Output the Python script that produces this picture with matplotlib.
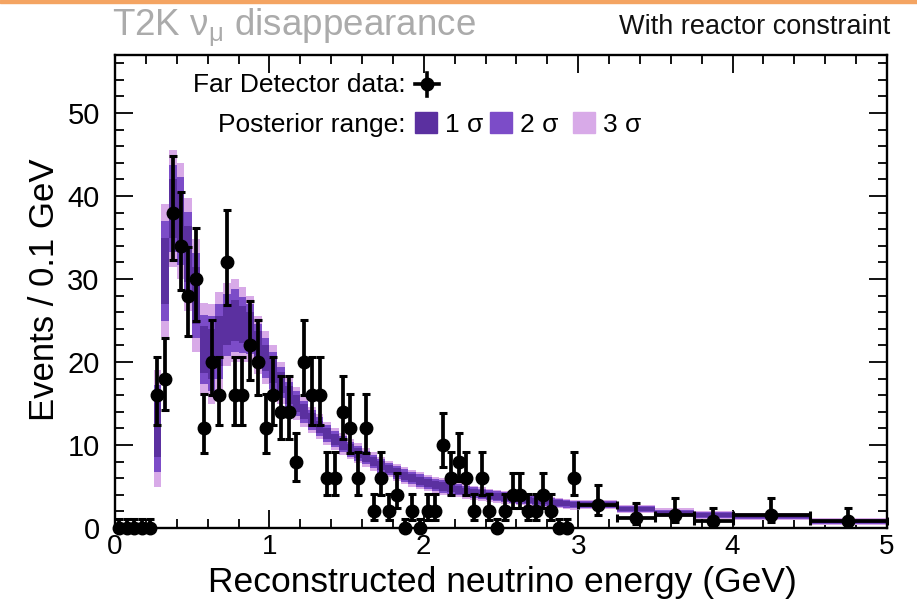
import numpy as np
import matplotlib
matplotlib.use("Agg")
import matplotlib.pyplot as plt
from matplotlib.lines import Line2D
from matplotlib.patches import Rectangle

plt.rcParams['font.family'] = ['Liberation Sans', 'DejaVu Sans']
plt.rcParams['mathtext.fontset'] = 'custom'
plt.rcParams['mathtext.rm'] = 'Liberation Sans'
plt.rcParams['mathtext.it'] = 'Liberation Sans'

# ---- data ----
# bin edges: 60 bins of 0.05 GeV from 0 to 3 GeV, then wider bins to 5 GeV
fine_edges = [round(0.05 * i, 2) for i in range(61)]
tail_edges = [3.25, 3.5, 3.75, 4.0, 4.5, 5.0]
bin_edges = fine_edges + tail_edges

# Far detector data (events / 0.1 GeV)
data_values = [0, 0, 0, 0, 0, 16, 18, 38, 34, 28,
               30, 12, 20, 16, 32, 16, 16, 22, 20, 12,
               16, 14, 14, 8, 20, 16, 16, 6, 6, 14,
               12, 6, 12, 2, 6, 2, 4, 0, 2, 0,
               2, 2, 10, 6, 8, 6, 2, 6, 2, 0,
               2, 4, 4, 2, 2, 4, 2, 0, 0, 6,
               2.8, 1.2, 1.6, 0.8, 1.6, 0.8]

# posterior prediction: central value and 3-sigma half width per bin
band_center = [0, 0, 0, 0, 0, 12, 31, 38.5, 37, 33,
               28, 21.5, 21, 22.5, 24.5, 25, 24.5, 24, 22, 20.5,
               19, 17.5, 16, 15, 14, 13, 12.2, 11.4, 10.7, 10.1,
               9.5, 9.0, 8.5, 8.0, 7.5, 7.1, 6.7, 6.3, 6.0, 5.7,
               5.4, 5.2, 5.0, 4.8, 4.6, 4.4, 4.25, 4.1, 3.95, 3.8,
               3.7, 3.6, 3.5, 3.4, 3.3, 3.2, 3.1, 3.0, 2.9, 2.8,
               2.8, 2.25, 1.85, 1.55, 1.4, 0.75]
band_halfwidth = [0, 0, 0, 0, 0, 7, 8, 7, 7, 6.8,
                  6.8, 5.6, 6, 6, 5, 5, 4.5, 4, 3.5, 3.2,
                  3, 2.5, 2.2, 2, 1.8, 1.6, 1.5, 1.4, 1.3, 1.3,
                  1.2, 1.2, 1.1, 1.1, 1.1, 1.0, 1.0, 1.0, 1.0, 1.0,
                  1.0, 1.0, 1.0, 0.9, 0.9, 0.9, 0.85, 0.85, 0.8, 0.8,
                  0.8, 0.75, 0.75, 0.7, 0.7, 0.7, 0.65, 0.65, 0.6, 0.6,
                  0.55, 0.5, 0.5, 0.5, 0.45, 0.4]

sigma_labels = ['1 σ', '2 σ', '3 σ']
sigma_fractions = [0.5, 0.75, 1.0]
sigma_colors = ['#5b30a0', '#7c4cc8', '#d8aae8']

# ---- figure ----
W, H = 917, 600
fig = plt.figure(figsize=(W / 100, H / 100), dpi=100)
ax = fig.add_axes([115 / W, 1 - 528 / H, (887 - 115) / W, (528 - 55) / H])

edges = np.array(bin_edges)
left = edges[:-1]
widths = np.diff(edges)
centers = left + widths / 2
c = np.array(band_center)
hw = np.array(band_halfwidth)
mask = c > 0

for k in [2, 1, 0]:
    f = sigma_fractions[k]
    ax.bar(left[mask], 2 * hw[mask] * f, bottom=c[mask] - hw[mask] * f,
           width=widths[mask], align='edge', color=sigma_colors[k],
           linewidth=0, zorder=2)

v = np.array(data_values, dtype=float)
up = 0.6 + np.sqrt(v + 0.25)
lo = -0.5 + np.sqrt(v + 0.25)
ax.errorbar(centers, v, yerr=[lo, up], xerr=widths / 2, fmt='o', color='black',
            markersize=9, elinewidth=2.7, capsize=2.8, capthick=2.2,
            zorder=5, clip_on=False)

ax.set_xlim(0, 5)
ax.set_ylim(0, 57)
ax.set_xticks([0, 1, 2, 3, 4, 5])
ax.set_xticks(np.arange(0, 5.01, 0.2), minor=True)
ax.set_yticks([0, 10, 20, 30, 40, 50])
ax.set_yticks(np.arange(0, 57, 2), minor=True)
ax.tick_params(which='both', direction='in', top=True, right=True,
               labelsize=21, width=1.3, colors='black')
ax.tick_params(which='major', length=13)
ax.tick_params(which='minor', length=6.5)
ax.tick_params(axis='x', which='major', pad=4, labelsize=20)
ax.tick_params(axis='y', which='major', pad=11)
for s in ax.spines.values():
    s.set_linewidth(1.7)

# axis titles
fig.text(502 / W, 1 - 592 / H, 'Reconstructed neutrino energy (GeV)',
         ha='center', va='baseline', fontsize=25.5)
fig.text(45 / W, 1 - 290 / H, 'Events / 0.1 GeV', rotation=90,
         ha='center', va='center', fontsize=25)

# header
fig.text(112 / W, 1 - 36 / H, r'T2K $\mathregular{\nu_{\mu}}$ disappearance',
         ha='left', va='baseline', fontsize=26.5, color='#ababab')
fig.text(890 / W, 1 - 34 / H, 'With reactor constraint',
         ha='right', va='baseline', fontsize=19.5, color='#111111')

# legend
fig.text(406 / W, 1 - 92 / H, 'Far Detector data:', ha='right', va='baseline',
         fontsize=19)
mx, my = 427 / W, 1 - 84 / H
fig.add_artist(Line2D([415 / W, 439 / W], [my, my], color='black', lw=2.6))
fig.add_artist(Line2D([mx, mx], [1 - 73 / H, 1 - 96 / H], color='black', lw=2.6))
fig.add_artist(Line2D([mx], [my], marker='o', markersize=9, color='black'))

fig.text(406 / W, 1 - 132 / H, 'Posterior range:', ha='right', va='baseline',
         fontsize=19)
sq_x = [415, 490, 573]
for k in range(3):
    fig.add_artist(Rectangle((sq_x[k] / W, 1 - 133 / H), 22 / W, 21 / H,
                             transform=fig.transFigure, color=sigma_colors[k]))
    fig.text((sq_x[k] + 30) / W, 1 - 132 / H, sigma_labels[k], ha='left',
             va='baseline', fontsize=19)

# thin orange strip at top
fig.add_artist(Rectangle((0, 1 - 3 / H), 1, 3 / H, transform=fig.transFigure,
                         color='#f4a462'))

fig.savefig('out.png', dpi=100)
